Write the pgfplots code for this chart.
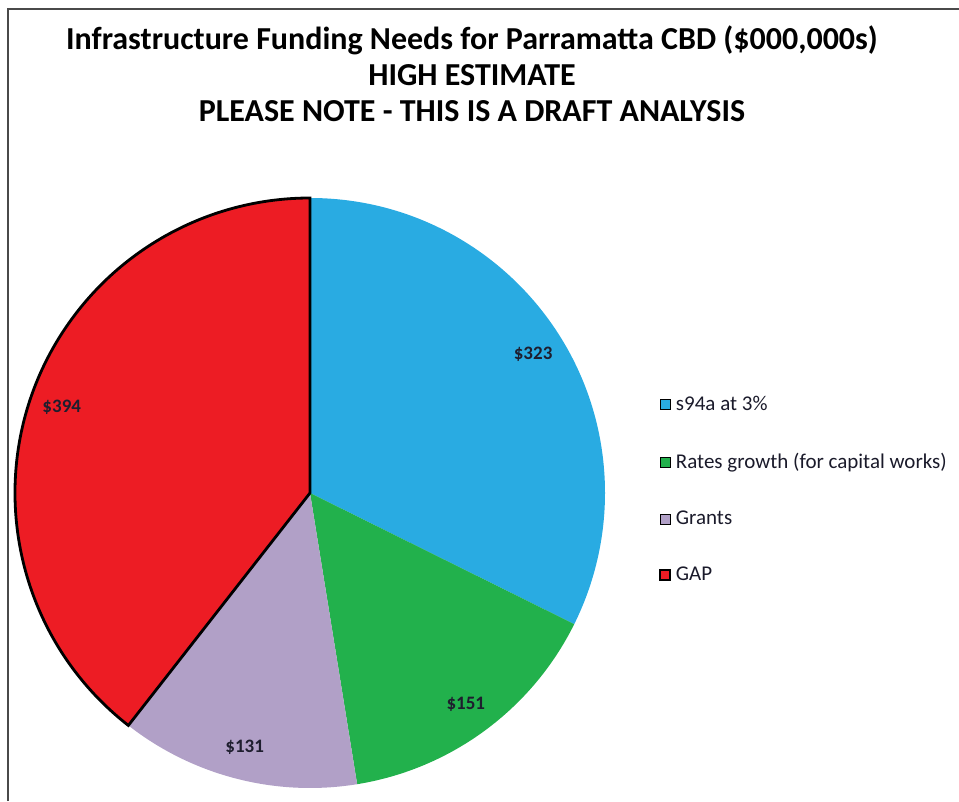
\documentclass[border=0pt]{standalone}
\usepackage{pgfplots}
\pgfplotsset{compat=1.18}
\usepackage{pgfplotstable}
\usepackage{fontspec}
\setmainfont{Carlito}
\definecolor{cBlue}{HTML}{29ABE2}
\definecolor{cGreen}{HTML}{22B14C}
\definecolor{cLav}{HTML}{B1A0C7}
\definecolor{cRed}{HTML}{ED1C24}
\definecolor{cFrame}{HTML}{4A4A4A}
\definecolor{cLab}{HTML}{1E1E2E}
\definecolor{cLeg}{HTML}{1A1A2A}
\pgfplotstableread{
label value
s94a 323
Rates 151
Grants 131
GAP 394
}\piedata
\begin{document}
\begin{tikzpicture}[x=1pt,y=1pt]
\useasboundingbox (0,0) rectangle (959,801);
\draw[cFrame, line width=2pt] (8,0) -- (8,792) -- (959,792);
\node[font=\bfseries\fontsize{32}{36}\selectfont, align=center] at (472,727)
  {Infrastructure Funding Needs for Parramatta CBD (\$000,000s)\\HIGH ESTIMATE\\PLEASE NOTE - THIS IS A DRAFT ANALYSIS};
\pgfplotstablegetelem{0}{value}\of\piedata \let\vA\pgfplotsretval
\pgfplotstablegetelem{1}{value}\of\piedata \let\vB\pgfplotsretval
\pgfplotstablegetelem{2}{value}\of\piedata \let\vC\pgfplotsretval
\pgfplotstablegetelem{3}{value}\of\piedata \let\vD\pgfplotsretval
\pgfmathsetmacro\tot{\vA+\vB+\vC+\vD}
\pgfmathsetmacro\aA{90}
\pgfmathsetmacro\aB{90-360*(\vA/\tot)}
\pgfmathsetmacro\aC{\aB-360*(\vB/\tot)}
\pgfmathsetmacro\aD{\aC-360*(\vC/\tot)}
\pgfmathsetmacro\aE{\aD-360*(\vD/\tot)}
\pgfmathsetmacro\mA{(\aA+\aB)/2}
\pgfmathsetmacro\mB{(\aB+\aC)/2}
\pgfmathsetmacro\mC{(\aC+\aD)/2}
\pgfmathsetmacro\mD{(\aD+\aE)/2}
\begin{axis}[
  at={(310pt,308pt)}, anchor=center,
  width=590pt, height=590pt, scale only axis,
  xmin=-1, xmax=1, ymin=-1, ymax=1, enlargelimits=false,
  hide axis, clip=false,
  legend image code/.code={\draw[#1] (-5pt,-5pt) rectangle (5pt,5pt); \path[draw=none,fill=none] (5pt,0pt) -- (8pt,0pt);},
  legend style={at={(1.086,0.506)}, anchor=west, draw=none, fill=none,
    font=\fontsize{21}{24}\selectfont, text=cLeg, row sep=35pt,
    nodes={inner sep=3pt}},
  legend cell align=left,
]
\addlegendimage{fill=cBlue, draw=none}
\addlegendentry{s94a at 3\%}
\addlegendimage{fill=cGreen, draw=none}
\addlegendentry{Rates growth (for capital works)}
\addlegendimage{fill=cLav, draw=none}
\addlegendentry{Grants}
\addlegendimage{fill=cRed, draw=black, line width=2pt}
\addlegendentry{GAP}
\fill[cBlue] (axis cs:0,0) -- (axis cs:{cos(\aA)},{sin(\aA)}) arc[start angle=\aA, end angle=\aB, radius=295pt] -- cycle;
\fill[cGreen] (axis cs:0,0) -- (axis cs:{cos(\aB)},{sin(\aB)}) arc[start angle=\aB, end angle=\aC, radius=295pt] -- cycle;
\fill[cLav] (axis cs:0,0) -- (axis cs:{cos(\aC)},{sin(\aC)}) arc[start angle=\aC, end angle=\aD, radius=295pt] -- cycle;
\filldraw[fill=cRed, draw=black, line width=2.8pt, line join=miter] (axis cs:0,0) -- (axis cs:{cos(\aD)},{sin(\aD)}) arc[start angle=\aD, end angle=\aE, radius=295pt] -- cycle;
\node[font=\bfseries\fontsize{19}{22}\selectfont, text=cLab] at (axis cs:{0.89*cos(\mA)},{0.89*sin(\mA)}) {\$\vA};
\node[font=\bfseries\fontsize{19}{22}\selectfont, text=cLab] at (axis cs:{0.89*cos(\mB)},{0.89*sin(\mB)}) {\$\vB};
\node[font=\bfseries\fontsize{19}{22}\selectfont, text=cLab] at (axis cs:{0.89*cos(\mC)},{0.89*sin(\mC)}) {\$\vC};
\node[font=\bfseries\fontsize{19}{22}\selectfont, text=cLab] at (axis cs:{0.89*cos(\mD)},{0.89*sin(\mD)}) {\$\vD};
\end{axis}
\end{tikzpicture}
\end{document}
